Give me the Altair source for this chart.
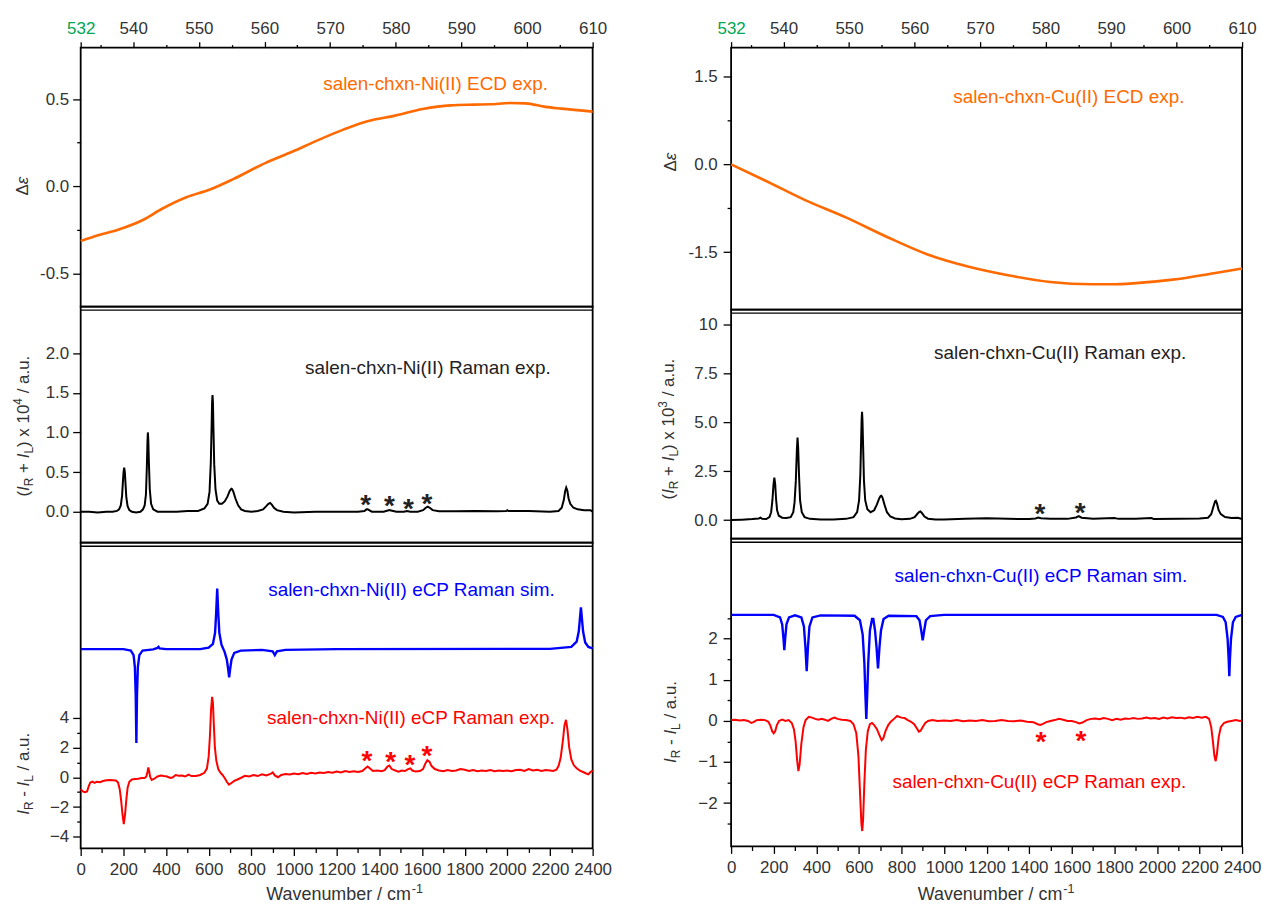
import altair as alt
import pandas as pd

FONT = "Liberation Sans"
TXT = "#333333"
ORANGE = "#FF6A00"
BLUE = "#0000FF"
RED = "#FF0000"
GREEN = "#00A651"

# ---------------- data ----------------
# ECD (x = wavelength / nm)
ni_ecd_wl = [532, 534.8, 537.8, 541.4, 544.4, 548.1, 551.7, 555.3, 560.1, 564.3, 567.9,
             572.1, 575.7, 579.9, 584.1, 588.4, 592.0, 594.4, 597.4, 599.8, 602.8, 605.2, 610]
ni_ecd = [-0.314, -0.28, -0.248, -0.195, -0.129, -0.063, -0.019, 0.042, 0.133, 0.199, 0.26,
          0.326, 0.373, 0.405, 0.443, 0.464, 0.468, 0.47, 0.477, 0.475, 0.455, 0.445, 0.428]
cu_ecd_wl = [532, 537.1, 543.3, 549.6, 555.8, 562, 568.3, 574.5, 580.7, 587, 590.1, 593.8,
             599.4, 605.7, 610]
cu_ecd = [0.0, -0.27, -0.61, -0.91, -1.24, -1.54, -1.75, -1.90, -2.01, -2.05, -2.05, -2.03,
          -1.97, -1.86, -1.78]

# Raman (I_R + I_L), Ni in 1e4 units
ni_ram_wn = [0, 40, 80, 120, 150, 170, 180, 188, 194, 198, 201, 204, 207, 210, 214, 220, 228, 240,
             260, 280, 292, 300, 306, 310, 313, 315, 317, 320, 324, 330, 340, 360, 400, 450, 500,
             550, 580, 595, 604, 610, 614, 616, 618, 620, 622, 626, 632, 640, 650, 662, 675, 688,
             698, 704, 707, 710, 716, 725, 738, 752, 770, 800, 830, 855, 870, 880, 888, 896, 906,
             920, 950, 1000, 1100, 1200, 1300, 1330, 1340, 1345, 1352, 1365, 1420, 1440, 1447,
             1455, 1480, 1515, 1530, 1545, 1580, 1605, 1618, 1627, 1636, 1650, 1680, 1750, 1850,
             1950, 1995, 2000, 2005, 2100, 2200, 2240, 2255, 2265, 2271, 2276, 2281, 2287, 2295,
             2310, 2330, 2360, 2390, 2400]
ni_ram = [0.0, 0.0, -0.01, 0.0, 0.0, 0.01, 0.03, 0.08, 0.2, 0.38, 0.5, 0.555, 0.5, 0.36, 0.18,
          0.07, 0.02, 0.0, -0.01, 0.0, 0.03, 0.08, 0.22, 0.55, 0.88, 1.0, 0.9, 0.6, 0.28, 0.1,
          0.03, 0.0, 0.0, 0.0, 0.01, 0.01, 0.04, 0.1, 0.25, 0.62, 1.1, 1.38, 1.47, 1.38, 1.1, 0.6,
          0.28, 0.14, 0.1, 0.1, 0.13, 0.19, 0.26, 0.285, 0.29, 0.285, 0.25, 0.17, 0.08, 0.03,
          0.01, 0.0, 0.01, 0.03, 0.07, 0.1, 0.11, 0.09, 0.05, 0.02, 0.0, -0.01, 0.0, 0.0, 0.0,
          0.01, 0.03, 0.03, 0.02, 0.0, 0.0, 0.015, 0.02, 0.015, 0.0, 0.0, 0.01, 0.0, 0.0, 0.02,
          0.05, 0.065, 0.05, 0.02, 0.005, 0.005, 0.01, 0.005, 0.01, 0.02, 0.01, 0.01, 0.0, 0.01,
          0.05, 0.15, 0.26, 0.305, 0.27, 0.17, 0.1, 0.05, 0.03, 0.02, 0.02, 0.0]

# Raman (I_R + I_L), Cu in 1e3 units
cu_ram_wn = [0, 50, 100, 130, 138, 146, 165, 180, 188, 194, 199, 203, 207, 211, 216, 224, 240,
             260, 280, 292, 298, 304, 309, 312, 315, 319, 324, 332, 345, 370, 420, 480, 540, 575,
             592, 601, 607, 611, 613, 615, 617, 620, 624, 630, 640, 655, 672, 685, 696, 702, 706,
             711, 720, 732, 748, 770, 800, 840, 862, 875, 884, 889, 896, 908, 925, 960, 1000, 1100,
             1200, 1300, 1400, 1430, 1442, 1455, 1500, 1580, 1620, 1633, 1646, 1700, 1800, 1820,
             1900, 1975, 1985, 2100, 2200, 2240, 2255, 2266, 2273, 2277, 2282, 2290, 2300, 2320,
             2350, 2380, 2400]
cu_ram = [0.0, 0.02, 0.05, 0.08, 0.12, 0.06, 0.05, 0.15, 0.4, 1.0, 1.8, 2.17, 1.85, 1.1, 0.5,
          0.22, 0.12, 0.1, 0.15, 0.4, 0.9, 2.0, 3.6, 4.21, 3.7, 2.3, 1.0, 0.4, 0.15, 0.06, 0.03,
          0.03, 0.06, 0.15, 0.4, 1.0, 2.3, 4.2, 5.1, 5.53, 5.1, 3.8, 2.0, 1.0, 0.55, 0.4, 0.5,
          0.8, 1.12, 1.22, 1.24, 1.15, 0.8, 0.4, 0.18, 0.08, 0.04, 0.06, 0.15, 0.32, 0.42, 0.44,
          0.36, 0.18, 0.07, 0.03, 0.03, 0.07, 0.09, 0.06, 0.05, 0.08, 0.13, 0.09, 0.06, 0.06,
          0.13, 0.2, 0.12, 0.07, 0.1, 0.06, 0.06, 0.1, 0.05, 0.06, 0.08, 0.12, 0.3, 0.7, 0.95,
          0.98, 0.85, 0.5, 0.3, 0.15, 0.1, 0.12, 0.05]

# eCP Raman simulation, Ni (offset trace)
ni_sim_wn = [0, 200, 235, 248, 254, 258, 261, 264, 268, 275, 290, 340, 360, 365, 370, 400, 560,
             600, 620, 630, 635, 640, 645, 650, 660, 675, 685, 692, 696, 700, 707, 720, 750, 850,
             900, 910, 920, 960, 1200, 2200, 2300, 2325, 2335, 2340, 2345, 2350, 2355, 2365, 2380,
             2400]
ni_sim = [8.6, 8.6, 8.5, 8.2, 7.4, 5.5, 2.3, 5.5, 7.4, 8.2, 8.5, 8.58, 8.68, 8.75, 8.65, 8.6,
          8.6, 8.7, 8.95, 9.7, 11.0, 12.67, 11.0, 9.7, 8.9, 8.4, 7.9, 7.2, 6.7, 7.2, 7.9, 8.35,
          8.5, 8.55, 8.45, 8.2, 8.45, 8.55, 8.6, 8.62, 8.75, 9.1, 9.8, 10.6, 11.4, 10.6, 9.8,
          9.05, 8.75, 8.65]

# eCP Raman experiment, Ni
ni_exp_wn = [0, 10, 20, 30, 38, 45, 55, 65, 75, 90, 105, 120, 135, 150, 165, 175, 183, 190, 196,
             202, 208, 214, 220, 228, 240, 255, 270, 285, 300, 308, 313, 317, 321, 326, 333, 345,
             360, 375, 390, 405, 420, 432, 445, 460, 475, 490, 505, 520, 540, 560, 580, 592, 600,
             606, 611, 616, 620, 624, 629, 636, 645, 655, 665, 675, 685, 695, 705, 720, 735, 750,
             770, 790, 810, 830, 850, 870, 890, 900, 910, 925, 940, 960, 980, 1000, 1020, 1040,
             1060, 1080, 1100, 1120, 1140, 1160, 1180, 1200, 1220, 1240, 1260, 1280, 1300, 1320,
             1335, 1345, 1355, 1370, 1390, 1410, 1425, 1438, 1447, 1458, 1475, 1490, 1505, 1520,
             1535, 1545, 1555, 1570, 1590, 1605, 1615, 1625, 1635, 1645, 1660, 1680, 1700, 1720,
             1740, 1760, 1780, 1800, 1820, 1840, 1860, 1880, 1900, 1920, 1940, 1960, 1980, 2000,
             2020, 2040, 2060, 2080, 2100, 2120, 2140, 2160, 2180, 2200, 2215, 2230, 2240, 2250,
             2260, 2268, 2275, 2282, 2290, 2300, 2312, 2325, 2340, 2355, 2370, 2380, 2390, 2400]
ni_exp = [-0.8, -0.95, -1.0, -0.95, -0.6, -0.35, -0.3, -0.38, -0.3, -0.33, -0.25, -0.2, -0.18,
          -0.2, -0.22, -0.35, -0.8, -1.6, -2.5, -3.15, -2.5, -1.5, -0.7, -0.3, -0.15, -0.12, -0.1,
          -0.05, -0.05, 0.05, 0.35, 0.65, 0.4, 0.0, -0.18, -0.1, 0.05, 0.12, 0.08, 0.05, -0.05,
          0.0, 0.15, 0.1, 0.12, 0.05, 0.18, 0.08, 0.08, 0.15, 0.3, 0.6, 1.4, 2.8, 4.5, 5.4, 5.0,
          3.6, 2.0, 1.1, 0.55, 0.3, 0.15, -0.05, -0.3, -0.5, -0.4, -0.25, -0.15, -0.05, 0.1, 0.05,
          0.15, 0.08, 0.2, 0.12, 0.22, 0.32, 0.12, 0.0, 0.15, 0.22, 0.18, 0.25, 0.2, 0.28, 0.22,
          0.3, 0.25, 0.32, 0.28, 0.35, 0.3, 0.38, 0.32, 0.42, 0.35, 0.4, 0.35, 0.42, 0.6, 0.72,
          0.6, 0.42, 0.45, 0.4, 0.48, 0.72, 0.78, 0.55, 0.45, 0.38, 0.45, 0.42, 0.55, 0.6, 0.45,
          0.38, 0.42, 0.55, 0.9, 1.15, 1.05, 0.75, 0.55, 0.45, 0.4, 0.48, 0.42, 0.45, 0.55, 0.5,
          0.42, 0.48, 0.4, 0.45, 0.42, 0.48, 0.4, 0.45, 0.42, 0.45, 0.4, 0.48, 0.5, 0.42, 0.55,
          0.45, 0.5, 0.42, 0.48, 0.45, 0.42, 0.5, 0.75, 1.3, 2.4, 3.5, 3.85, 3.2, 2.0, 1.2, 0.8,
          0.6, 0.45, 0.35, 0.25, 0.2, 0.35, 0.45]

# eCP Raman simulation, Cu (offset trace)
cu_sim_wn = [0, 200, 230, 240, 246, 250, 254, 260, 272, 300, 330, 342, 349, 355, 361, 368, 382,
             420, 580, 605, 618, 626, 631, 635, 639, 644, 652, 662, 668, 676, 683, 687, 690, 693,
             697, 704, 716, 740, 870, 885, 893, 900, 907, 915, 935, 1000, 2280, 2310, 2323, 2332,
             2337, 2340, 2343, 2348, 2357, 2370, 2400]
cu_sim = [2.58, 2.58, 2.52, 2.35, 2.0, 1.72, 2.0, 2.35, 2.52, 2.57, 2.52, 2.3, 1.8, 1.21, 1.8,
          2.3, 2.52, 2.57, 2.56, 2.45, 2.1, 1.4, 0.6, 0.05, 0.6, 1.4, 2.2, 2.48, 2.48, 2.2, 1.8,
          1.5, 1.28, 1.5, 1.8, 2.2, 2.48, 2.56, 2.55, 2.45, 2.2, 1.96, 2.2, 2.45, 2.55, 2.58,
          2.58, 2.53, 2.4, 2.0, 1.5, 1.09, 1.5, 2.0, 2.4, 2.53, 2.58]

# eCP Raman experiment, Cu
cu_exp_wn = [0, 20, 40, 60, 80, 95, 105, 120, 140, 160, 175, 185, 193, 200, 207, 215, 225, 240,
             255, 270, 285, 295, 303, 310, 316, 322, 330, 340, 350, 365, 380, 395, 410, 425, 440,
             455, 470, 485, 500, 520, 540, 560, 575, 588, 598, 606, 612, 616, 620, 626, 633, 642,
             652, 662, 672, 685, 697, 707, 715, 725, 738, 750, 765, 780, 790, 800, 815, 830, 845,
             860, 872, 882, 890, 900, 912, 925, 945, 970, 1000, 1030, 1060, 1090, 1120, 1150,
             1180, 1210, 1240, 1270, 1300, 1330, 1360, 1390, 1420, 1440, 1452, 1465, 1480, 1500,
             1520, 1540, 1560, 1580, 1600, 1620, 1635, 1650, 1670, 1690, 1710, 1730, 1750, 1770,
             1790, 1810, 1830, 1850, 1870, 1890, 1910, 1930, 1950, 1970, 1990, 2010, 2030, 2050,
             2070, 2090, 2110, 2130, 2150, 2170, 2190, 2210, 2230, 2245, 2255, 2263, 2270, 2276,
             2282, 2290, 2300, 2315, 2330, 2350, 2370, 2390, 2400]
cu_exp = [0.02, 0.03, 0.01, 0.02, 0.0, -0.05, -0.03, 0.02, 0.03, 0.02, -0.02, -0.12, -0.25,
          -0.3, -0.25, -0.1, 0.0, 0.03, 0.0, 0.02, -0.05, -0.2, -0.5, -0.95, -1.22, -1.05, -0.55,
          -0.15, 0.02, 0.1, 0.08, 0.05, 0.03, 0.05, 0.03, 0.0, 0.05, 0.08, 0.05, 0.03, 0.02, 0.0,
          -0.08, -0.3, -0.85, -1.8, -2.5, -2.68, -2.4, -1.5, -0.7, -0.25, -0.08, -0.05, -0.1,
          -0.2, -0.35, -0.47, -0.42, -0.25, -0.1, -0.02, 0.05, 0.12, 0.1, 0.08, 0.07, 0.02,
          -0.02, -0.08, -0.18, -0.26, -0.24, -0.15, -0.05, 0.0, 0.02, 0.0, 0.01, 0.0, 0.02,
          -0.01, 0.01, 0.0, 0.02, -0.01, 0.0, 0.02, 0.0, -0.01, 0.01, -0.02, -0.03, -0.08, -0.1,
          -0.07, -0.03, 0.0, 0.02, 0.05, 0.03, 0.0, 0.0, -0.03, -0.06, -0.04, 0.02, 0.05, 0.06,
          0.04, 0.07, 0.05, 0.02, 0.05, 0.03, 0.06, 0.05, 0.07, 0.05, 0.06, 0.08, 0.06, 0.07,
          0.05, 0.08, 0.06, 0.09, 0.07, 0.08, 0.06, 0.09, 0.07, 0.1, 0.08, 0.1, 0.05, -0.15,
          -0.5, -0.85, -0.98, -0.8, -0.4, -0.15, -0.05, -0.02, 0.0, 0.02, 0.0, 0.01]

# asterisk markers
ni_ram_star_wn = [1336, 1447, 1536, 1623]
ni_ram_star_v = [0.16, 0.147, 0.11, 0.167]
ni_ecp_star_wn = [1342, 1453, 1543, 1623]
ni_ecp_star_v = [1.52, 1.41, 1.25, 1.81]
cu_ram_star_wn = [1451, 1639]
cu_ram_star_v = [0.61, 0.68]
cu_ecp_star_wn = [1455, 1643]
cu_ecp_star_v = [-0.36, -0.34]

# axis ticks
wl_ticks = [532, 535, 540, 545, 550, 555, 560, 565, 570, 575, 580, 585, 590, 595, 600, 605, 610]
wn_ticks = list(range(0, 2401, 100))

# ---------------- layout ----------------
LW, RW = 514, 513
LH = [260, 237, 307]
RH = [263, 230, 309]
L_EXT = LW + 20          # invisible right extent of left column
GAP = 650                # origin distance between columns

one = pd.DataFrame({"k": [0]})

ARIAL = {' ': .278, '(': .333, ')': .333, '+': .584, '-': .333, '.': .278, '/': .278,
         '0': .556, '1': .556, '3': .556, '4': .556, 'I': .278, 'L': .556, 'R': .722,
         'a': .556, 'u': .556, 'x': .5, 'W': .944, 'e': .556, 'v': .5, 'n': .556, 'm': .833,
         'b': .556, 'r': .333, 'c': .5, '\u0394': .668, '\u03b5': .44}


def tw(s, size):
    return sum(ARIAL.get(c, .556) for c in s) * size


def rich_text(segs, cx, cy, size, vertical, color=TXT):
    items = []
    for text, style in segs:
        small = style in ("sub", "sup")
        fs = size * 0.7 if small else size
        shift = 0.22 * size if style == "sub" else (-0.42 * size if style == "sup" else 0)
        lead = len(text) - len(text.lstrip(" "))
        items.append((text.strip(" "), fs, style == "i", shift, tw(text, fs), lead * ARIAL[' '] * fs))
    total = sum(it[4] for it in items)
    pos = -total / 2
    layers = []
    for text, fs, italic, shift, w, lead_w in items:
        p = pos + lead_w
        if vertical:
            x, y, ang = cx + shift, cy - p, 270
        else:
            x, y, ang = cx + p, cy + shift, 0
        layers.append(
            alt.Chart(one).mark_text(text=text, angle=ang, align="left", baseline="alphabetic",
                                     font=FONT, fontSize=fs,
                                     fontStyle="italic" if italic else "normal", color=color)
            .encode(x=alt.value(x), y=alt.value(y)))
        pos += w
    return layers


def anchor(x, y):
    return alt.Chart(one).mark_rule(opacity=0, strokeWidth=0.2).encode(
        x=alt.value(x), x2=alt.value(x + 0.5), y=alt.value(y))


def minus_fmt(dec):
    return f"(datum.value < 0 ? '-' : '') + format(abs(datum.value), '.{dec}f')"


def yaxis(values, major_test, label_expr=None, fmt=None, pad=4):
    kw = dict(values=values, title=None, labelOverlap=False, labelPadding=pad,
              tickSize={"condition": {"test": major_test, "value": 8}, "value": 4})
    if label_expr:
        kw["labelExpr"] = label_expr
    if fmt:
        kw["format"] = fmt
    return alt.Axis(**kw)


top_axis = alt.Axis(orient="top", values=wl_ticks, title=None, format="d", labelOverlap=False,
                    labelFlush=False,
                    labelExpr="datum.value == 532 || datum.value % 10 == 0 ? datum.label : ''",
                    tickSize={"condition": {"test": "datum.value == 532 || datum.value % 10 == 0",
                                            "value": 6}, "value": 3},
                    labelColor={"condition": {"test": "datum.value == 532", "value": GREEN},
                                "value": TXT},
                    labelPadding=4)
bottom_axis = alt.Axis(orient="bottom", values=wn_ticks, title=None, format="d",
                       labelOverlap=False, labelFlush=False,
                       labelExpr="datum.value % 200 == 0 ? datum.label : ''",
                       tickSize={"condition": {"test": "datum.value % 200 == 0", "value": 7},
                                 "value": 4},
                       labelPadding=6)


def xwl():
    return alt.X("wl:Q", scale=alt.Scale(domain=[532, 610], nice=False, zero=False), axis=top_axis)


def xwn(bottom):
    return alt.X("wn:Q", scale=alt.Scale(domain=[0, 2400], nice=False, zero=False),
                 axis=bottom_axis if bottom else None)


def yenc(domain, axis):
    return alt.Y("v:Q", scale=alt.Scale(domain=domain, nice=False, zero=False), axis=axis)


def line(xname, xs, ys, X, Y, color, width, interp="linear"):
    df = pd.DataFrame({xname: xs, "v": ys})
    return alt.Chart(df).mark_line(color=color, strokeWidth=width, interpolate=interp).encode(x=X, y=Y)


def label(xname, xv, yv, text, color, X, Y, size=19):
    df = pd.DataFrame({xname: [xv], "v": [yv]})
    return alt.Chart(df).mark_text(text=text, align="right", baseline="middle", font=FONT,
                                   fontSize=size, color=color).encode(x=X, y=Y)


def stars(xs, ys, color, X, Y):
    df = pd.DataFrame({"wn": xs, "v": ys})
    return alt.Chart(df).mark_text(text="*", align="center", baseline="alphabetic", dy=15,
                                   font=FONT, fontSize=28, fontWeight="bold",
                                   color=color).encode(x=X, y=Y)


def dbl(width):
    return alt.Chart(one).mark_rule(color="black", strokeWidth=1.4).encode(
        x=alt.value(0), x2=alt.value(width), y=alt.value(3.6))


# -------- left column (Ni) --------
Y = yenc([-0.69, 0.795], yaxis([-0.5, -0.25, 0, 0.25, 0.5], "abs(datum.value) != 0.25",
                               f"abs(datum.value) == 0.25 ? '' : {minus_fmt(1)}"))
X = xwl()
l_top = alt.layer(
    anchor(-80, -45),
    anchor(L_EXT, -45),
    line("wl", ni_ecd_wl, ni_ecd, X, Y, ORANGE, 2.6, "monotone"),
    label("wl", 603.2, 0.584, "salen-chxn-Ni(II) ECD exp.", ORANGE, X, Y),
    *rich_text([("\u0394", "n"), ("\u03b5", "i")], -52.5, 139, 17, True),
).properties(width=LW, height=LH[0])

Y = yenc([-0.39, 2.587], yaxis([0, 0.5, 1, 1.5, 2], "true", fmt=".1f"))
X = xwn(False)
l_mid = alt.layer(
    dbl(LW),
    line("wn", ni_ram_wn, ni_ram, X, Y, "black", 2.0),
    stars(ni_ram_star_wn, ni_ram_star_v, "#222222", X, Y),
    label("wn", 2204, 1.808, "salen-chxn-Ni(II) Raman exp.", "#222222", X, Y),
    *rich_text([("(", "n"), ("I", "i"), ("R", "sub"), (" + ", "n"), ("I", "i"), ("L", "sub"),
                (") x 10", "n"), ("4", "sup"), (" / a.u.", "n")], -51.5, 120, 17, True),
).properties(width=LW, height=LH[1])

Y = yenc([-4.78, 15.75], yaxis([-4, -3, -2, -1, 0, 1, 2, 3, 4], "datum.value % 2 == 0",
                               "datum.value % 2 == 0 ? datum.label : ''", "d"))
X = xwn(True)
l_bot = alt.layer(
    dbl(LW),
    line("wn", ni_sim_wn, ni_sim, X, Y, BLUE, 2.4),
    line("wn", ni_exp_wn, ni_exp, X, Y, RED, 2.0),
    stars(ni_ecp_star_wn, ni_ecp_star_v, RED, X, Y),
    label("wn", 2222, 12.54, "salen-chxn-Ni(II) eCP Raman sim.", BLUE, X, Y),
    label("wn", 2222, 3.98, "salen-chxn-Ni(II) eCP Raman exp.", RED, X, Y),
    *rich_text([("I", "i"), ("R", "sub"), (" - ", "n"), ("I", "i"), ("L", "sub"),
                (" / a.u.", "n")], -52, 232, 17, True),
    *rich_text([("Wavenumber / cm", "n"), ("-1", "sup")], 265, 359, 18, False),
).properties(width=LW, height=LH[2])

# -------- right column (Cu) --------
Y = yenc([-2.482, 1.998], yaxis([-1.5, -0.75, 0, 0.75, 1.5], "abs(datum.value) != 0.75",
                                f"abs(datum.value) == 0.75 ? '' : {minus_fmt(1)}", pad=6))
X = xwl()
r_top = alt.layer(
    anchor(-80, -45),
    line("wl", cu_ecd_wl, cu_ecd, X, Y, ORANGE, 2.6, "monotone"),
    label("wl", 601.2, 1.147, "salen-chxn-Cu(II) ECD exp.", ORANGE, X, Y),
    *rich_text([("\u0394", "n"), ("\u03b5", "i")], -55, 115, 17, True),
).properties(width=RW, height=RH[0])

Y = yenc([-0.951, 10.75], yaxis([0, 2.5, 5, 7.5, 10], "true",
                                "datum.value == 10 ? '10' : format(datum.value, '.1f')", pad=6))
X = xwn(False)
r_mid = alt.layer(
    dbl(RW),
    line("wn", cu_ram_wn, cu_ram, X, Y, "black", 2.0),
    stars(cu_ram_star_wn, cu_ram_star_v, "#222222", X, Y),
    label("wn", 2138, 8.51, "salen-chxn-Cu(II) Raman exp.", "#222222", X, Y),
    *rich_text([("(", "n"), ("I", "i"), ("R", "sub"), (" + ", "n"), ("I", "i"), ("L", "sub"),
                (") x 10", "n"), ("3", "sup"), (" / a.u.", "n")], -57, 120, 17, True),
).properties(width=RW, height=RH[1])

Y = yenc([-3.055, 4.436], yaxis([-2.5, -2, -1.5, -1, -0.5, 0, 0.5, 1, 1.5, 2, 2.5],
                                "datum.value % 1 == 0",
                                "datum.value % 1 == 0 ? format(datum.value, 'd') : ''", pad=6))
X = xwn(True)
r_bot = alt.layer(
    dbl(RW),
    line("wn", cu_sim_wn, cu_sim, X, Y, BLUE, 2.4),
    line("wn", cu_exp_wn, cu_exp, X, Y, RED, 2.0),
    stars(cu_ecp_star_wn, cu_ecp_star_v, RED, X, Y),
    label("wn", 2143, 3.52, "salen-chxn-Cu(II) eCP Raman sim.", BLUE, X, Y),
    label("wn", 2138, -1.48, "salen-chxn-Cu(II) eCP Raman exp.", RED, X, Y),
    *rich_text([("I", "i"), ("R", "sub"), (" - ", "n"), ("I", "i"), ("L", "sub"),
                (" / a.u.", "n")], -55, 184, 17, True),
    *rich_text([("Wavenumber / cm", "n"), ("-1", "sup")], 266, 363, 18, False),
).properties(width=RW, height=RH[2])

left = alt.vconcat(l_top, l_mid, l_bot, spacing=0, bounds="flush")
right = alt.vconcat(r_top, r_mid, r_bot, spacing=0, bounds="flush")

chart = alt.hconcat(left, right, spacing=GAP - L_EXT - 80).properties(
    padding=0, background="white"
).configure_view(stroke="black", strokeWidth=1.8).configure_axis(
    labelFont=FONT, labelFontSize=17, labelColor=TXT, tickColor="black", tickWidth=1.3,
    domain=False, grid=False, labelFlush=False, labelOverlap=False)

chart.save("out.html", embed_options={"renderer": "svg", "actions": False})
